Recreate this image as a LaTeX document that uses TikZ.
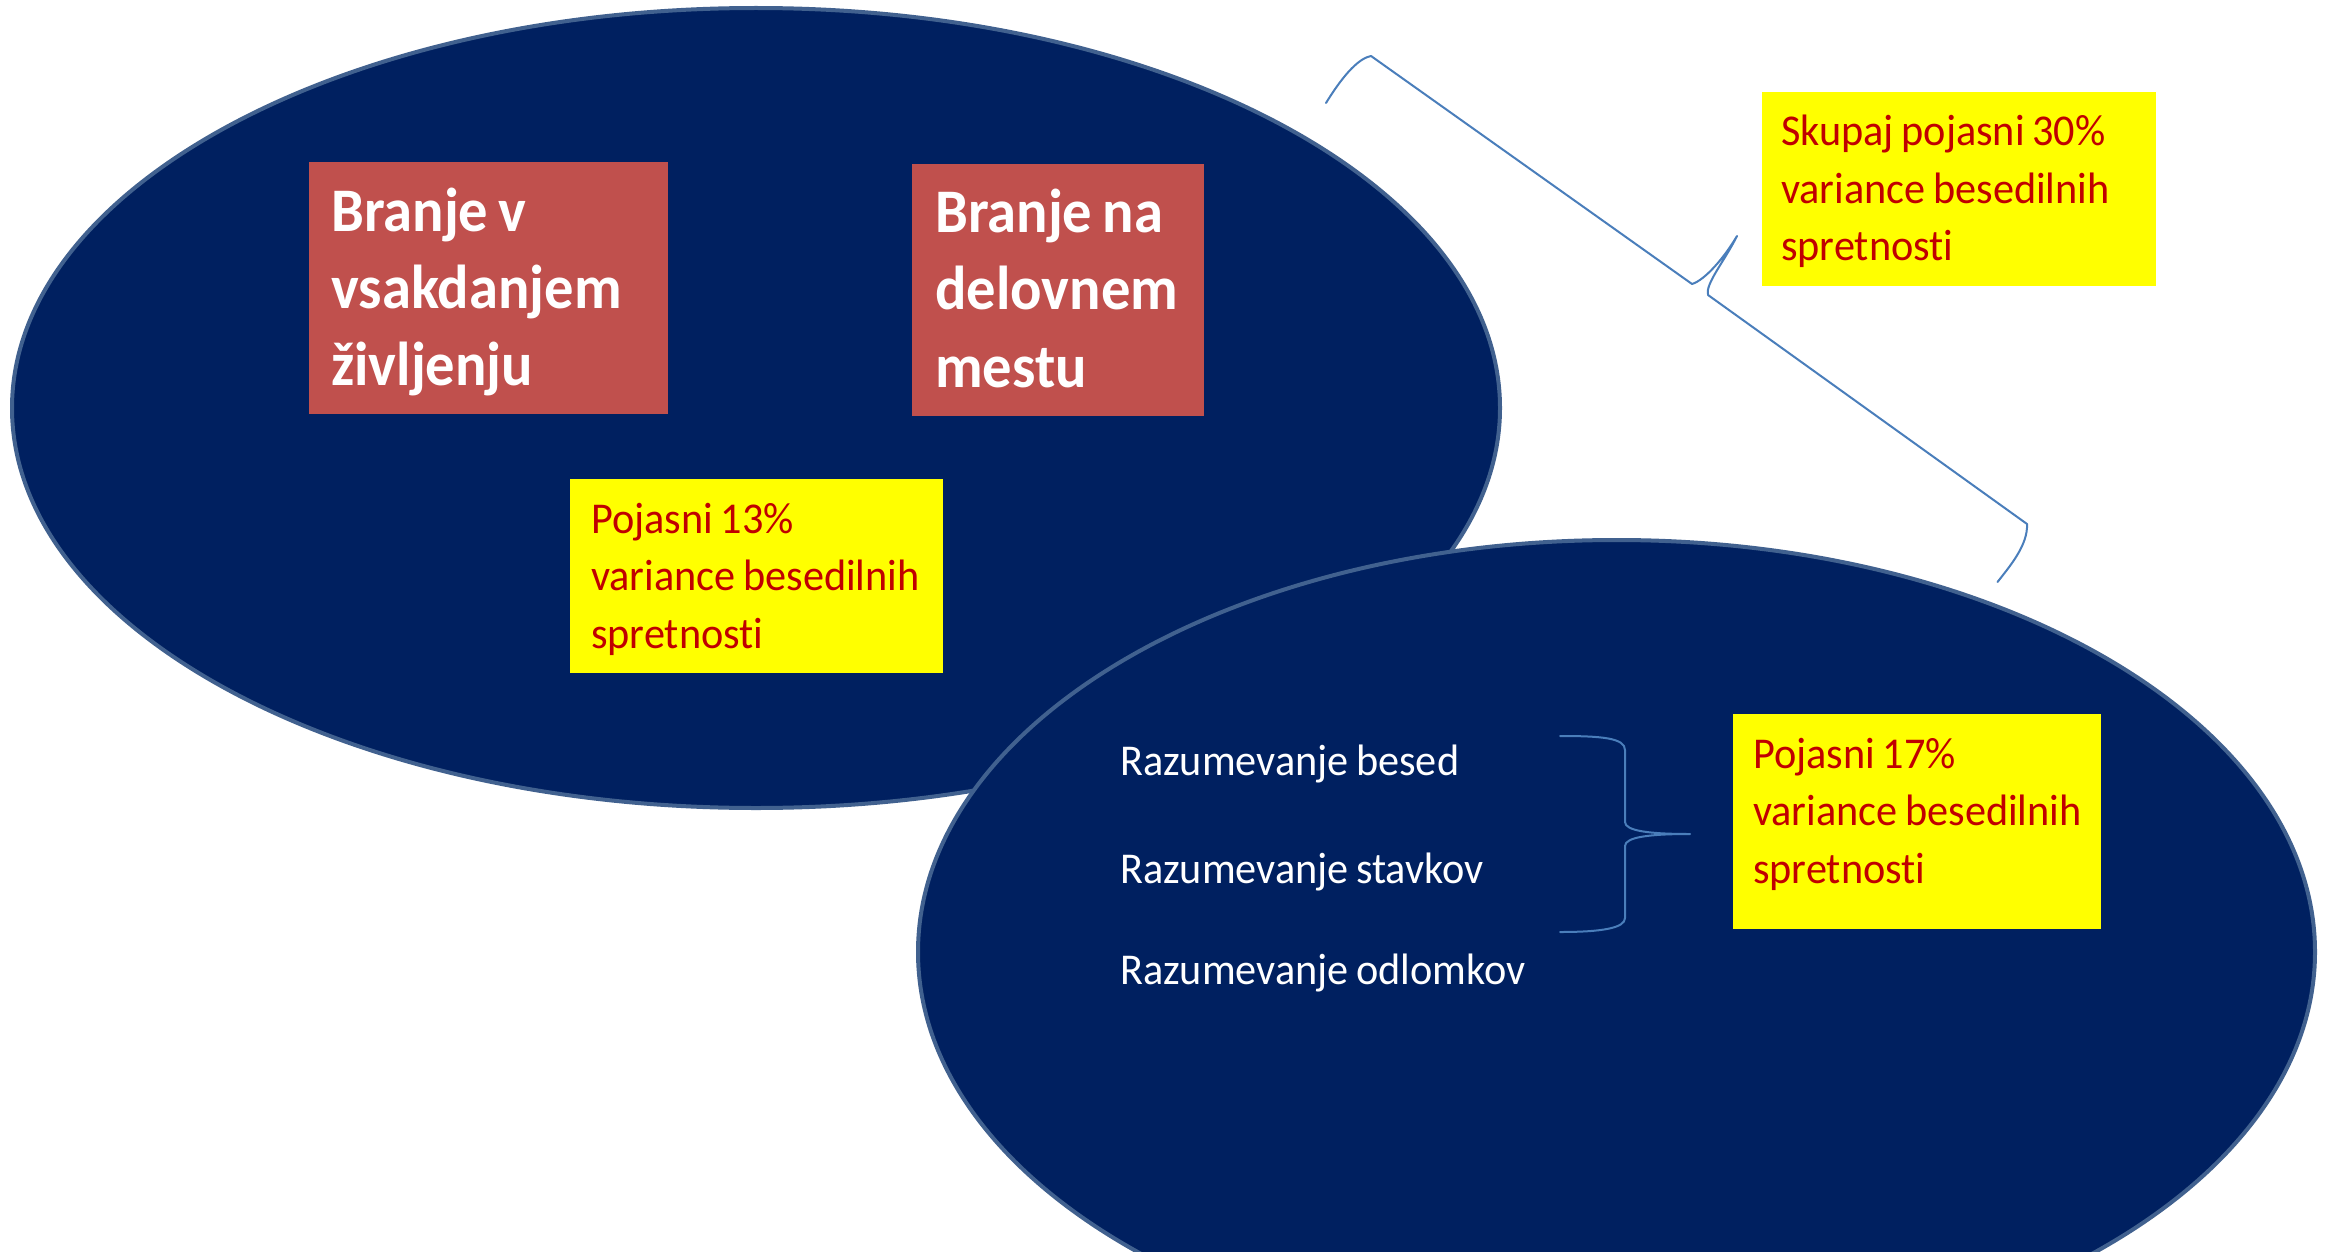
\documentclass[tikz,border=0pt]{standalone}
\usepackage{fontspec}
\setmainfont{Carlito}[FakeStretch=0.96, WordSpace=0.8, Ligatures={NoCommon},
  BoldFeatures={FakeStretch=0.945}]
\definecolor{navy}{HTML}{002060}
\definecolor{rim}{HTML}{41618F}
\definecolor{brick}{HTML}{C0504D}
\definecolor{ylw}{HTML}{FFFF00}
\definecolor{darkred}{HTML}{C00000}
\definecolor{bracec}{HTML}{4A7EBB}
\tikzset{
  blob/.style={fill=navy, draw=rim, line width=4pt},
  redbox/.style={fill=brick, draw=none, inner sep=0pt, anchor=north west},
  yellowbox/.style={fill=ylw, draw=none, inner sep=0pt, anchor=north west},
  redtext/.style={anchor=base west, inner sep=0pt, text width=420pt, align=flush left, text=white,
     font=\fontsize{62}{77}\selectfont\bfseries},
  ytext/.style={anchor=base west, inner sep=0pt, text width=420pt, align=flush left, text=darkred,
     font=\fontsize{44}{57.5}\selectfont},
  wtext/.style={anchor=base west, inner sep=0pt, text=white, font=\fontsize{44}{53}\selectfont},
  bracestyle/.style={draw=bracec, line width=2pt, line join=round, line cap=round}
}
\begin{document}
\begin{tikzpicture}[x=1pt,y=-1pt]
\useasboundingbox (0,0) rectangle (2333,1252);
\clip (0,0) rectangle (2333,1252);
% ellipses
\path[blob] (756,408) ellipse [x radius=744, y radius=400];
\path[blob] (1616.5,952) ellipse [x radius=698.5, y radius=412];
% red boxes
\node[redbox, minimum width=359pt, minimum height=252pt] (r1) at (309,162) {};
\node[redtext] (r1t) at (331,231) {Branje v\\vsakdanjem\\življenju};
\node[redbox, minimum width=292pt, minimum height=252pt] (r2) at (912,164) {};
\node[redtext] (r2t) at (935,233) {Branje na\\delovnem\\mestu};
% yellow boxes
\node[yellowbox, minimum width=373pt, minimum height=194pt] (y1) at (570,479) {};
\node[ytext] (y1t) at (591,533) {Pojasni 13\%\\variance besedilnih\\spretnosti};
\node[yellowbox, minimum width=394pt, minimum height=194pt] (y3) at (1762,92) {};
\node[ytext] (y3t) at (1781,146) {Skupaj pojasni 30\%\\variance besedilnih\\spretnosti};
\node[yellowbox, minimum width=368pt, minimum height=215pt] (y2) at (1733,714) {};
\node[ytext] (y2t) at (1753,768) {Pojasni 17\%\\variance besedilnih\\spretnosti};
% white list
\node[wtext] (w1) at (1120,775) {Razumevanje besed};
\node[wtext] (w2) at (1120,883) {Razumevanje stavkov};
\node[wtext] (w3) at (1120,984) {Razumevanje odlomkov};
% small brace
\coordinate (sa) at (1560,736);
\coordinate (st) at (1690,834);
\coordinate (sb) at (1560,932);
\draw[bracestyle] (sa) .. controls (1602,736) and (1625,738) .. (1625,750)
  -- (1625,822) .. controls (1625,831) and (1650,834) .. (st)
  .. controls (1650,834) and (1625,837) .. (1625,846)
  -- (1625,918) .. controls (1625,928) and (1602,932) .. (sb);
% big brace
\coordinate (ba) at (1326,103);
\coordinate (bb) at (1371,56);
\coordinate (bc) at (1692,284);
\coordinate (bt) at (1737,236);
\coordinate (bd) at (1708,295);
\coordinate (be) at (2027,524);
\coordinate (bf) at (1997.5,582);
\draw[bracestyle] (ba) .. controls (1345,72) and (1360,58) .. (bb)
  -- (bc) .. controls (1705,280) and (1724,258) .. (bt)
  .. controls (1724,262) and (1705,284) .. (bd)
  -- (be) .. controls (2028,545) and (2010,566) .. (bf);
\end{tikzpicture}
\end{document}
